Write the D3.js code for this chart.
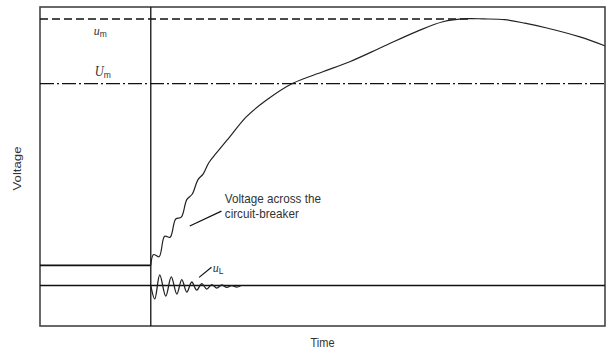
<!DOCTYPE html>
<html>
<head>
<meta charset="utf-8">
<script src="https://cdn.jsdelivr.net/npm/d3@7"></script>
<style>
  html, body { margin: 0; padding: 0; background: #fff; }
  svg { display: block; }
  text { font-family: "Liberation Sans", Arial, sans-serif; fill: #333; }
</style>
</head>
<body>
<svg id="chart" width="608" height="351"></svg>
<script>
// Time axis (µs, arbitrary) and voltage axis (per unit of Um)
const timeDomain = [-100, 410];
const voltageDomain = [-0.2, 1.38];

// Characteristic voltage levels (p.u.)
const peakRecovery = 1.32;   // u_m
const ratedPeak = 1.0;       // U_m
const preArcVoltage = 0.1;   // arc voltage before current zero
const supplyZero = 0.0;
const currentZero = 0;       // time of current zero
const peakTime = 290;        // end of the u_m reference line

// Transient recovery voltage across the circuit-breaker
const trvTime = [0, 2.5, 7.5, 12.5, 17.5, 22.5, 27.5, 32.5, 37.5, 42.5, 47.5, 52.5,
  59.3, 71.3, 86.4, 104.5, 128.2, 155.3, 179.6, 209.4, 239.8, 263.6, 285, 300,
  319.6, 337.6, 357.5, 387.3, 409.8];
const trvVolt = [0.1, 0.154, 0.143, 0.244, 0.240, 0.330, 0.339, 0.426, 0.454, 0.524, 0.555, 0.61,
  0.657, 0.737, 0.837, 0.919, 1.002, 1.059, 1.109, 1.183, 1.258, 1.307, 1.322, 1.321,
  1.317, 1.30, 1.276, 1.232, 1.188];

// Line-side oscillation u_L
const uLTime = [0, 3.6, 8.1, 13.5, 18.5, 23.5, 28, 32.5, 37, 41.5, 46, 50.5, 55, 59.6, 64, 68.6, 73, 77.6, 81];
const uLVolt = [0, -0.066, 0.053, -0.052, 0.043, -0.042, 0.030, -0.032, 0.018, -0.022, 0.010, -0.017,
  0.005, -0.012, 0.003, -0.009, 0.0, -0.007, -0.002];

const xLabel = "Time";
const yLabel = "Voltage";
const trvLabel = ["Voltage across the", "circuit-breaker"];

const svg = d3.select("#chart");
const x = d3.scaleLinear().domain(timeDomain).range([40, 605]);
const y = d3.scaleLinear().domain(voltageDomain).range([326, 7]);

// Frame
svg.append("rect")
  .attr("x", x(timeDomain[0])).attr("y", y(voltageDomain[1]))
  .attr("width", x(timeDomain[1]) - x(timeDomain[0]))
  .attr("height", y(voltageDomain[0]) - y(voltageDomain[1]))
  .attr("fill", "none").attr("stroke", "#444").attr("stroke-width", 1.6);

const hline = (v, t0, t1, w, dash) => svg.append("line")
  .attr("x1", x(t0)).attr("x2", x(t1)).attr("y1", y(v)).attr("y2", y(v))
  .attr("stroke", "#111").attr("stroke-width", w)
  .attr("stroke-dasharray", dash || null);

// Reference levels
hline(peakRecovery, timeDomain[0], peakTime, 1.5, "8,4");
hline(ratedPeak, timeDomain[0], timeDomain[1], 1.3, "14,3,2,3");
hline(supplyZero, timeDomain[0], timeDomain[1], 1.5);
hline(preArcVoltage, timeDomain[0], currentZero, 1.8);

// Current-zero instant
svg.append("line")
  .attr("x1", x(currentZero)).attr("x2", x(currentZero))
  .attr("y1", y(voltageDomain[1])).attr("y2", y(voltageDomain[0]))
  .attr("stroke", "#111").attr("stroke-width", 1.3);

const line = d3.line().x(d => x(d[0])).y(d => y(d[1])).curve(d3.curveCatmullRom.alpha(0.5));

svg.append("path")
  .datum(d3.zip(trvTime, trvVolt))
  .attr("d", line)
  .attr("fill", "none").attr("stroke", "#222").attr("stroke-width", 1.2);

svg.append("path")
  .datum(d3.zip(uLTime, uLVolt))
  .attr("d", line)
  .attr("fill", "none").attr("stroke", "#222").attr("stroke-width", 1.3);

// Annotations
const leader = (t0, v0, t1, v1) => svg.append("line")
  .attr("x1", x(t0)).attr("y1", y(v0)).attr("x2", x(t1)).attr("y2", y(v1))
  .attr("stroke", "#111").attr("stroke-width", 1.2);

leader(35.2, 0.295, 63.8, 0.369);
leader(43.6, 0.041, 54.8, 0.091);

trvLabel.forEach((s, i) => {
  svg.append("text")
    .attr("transform", `translate(${x(66.8)},${y(0.41) + i * 15.5}) scale(1,1.1)`)
    .attr("font-size", 11.7)
    .text(s);
});

function symbol(t, v, main, sub, mainSize) {
  const g = svg.append("text")
    .attr("transform", `translate(${x(t)},${y(v)}) scale(1,1.1)`);
  g.append("tspan")
    .style("font-family", "'Liberation Serif', 'Times New Roman', serif")
    .style("font-style", "italic")
    .attr("font-size", mainSize)
    .text(main);
  g.append("tspan")
    .attr("font-size", 8.5)
    .attr("dy", 2)
    .text(sub);
}
symbol(-51.4, 1.241, "u", "m", 12);
symbol(-50.5, 1.04, "U", "m", 12.5);
symbol(56, 0.067, "u", "L", 12);

// Axis titles
svg.append("text")
  .attr("transform", `translate(${(x(timeDomain[0]) + x(timeDomain[1])) / 2},347) scale(1,1.12)`)
  .attr("text-anchor", "middle").attr("font-size", 11)
  .text(xLabel);

svg.append("text")
  .attr("transform", `translate(21,${y(0.58)}) rotate(-90) scale(1.15,1)`)
  .attr("text-anchor", "middle").attr("font-size", 11.5)
  .text(yLabel);
</script>
</body>
</html>
